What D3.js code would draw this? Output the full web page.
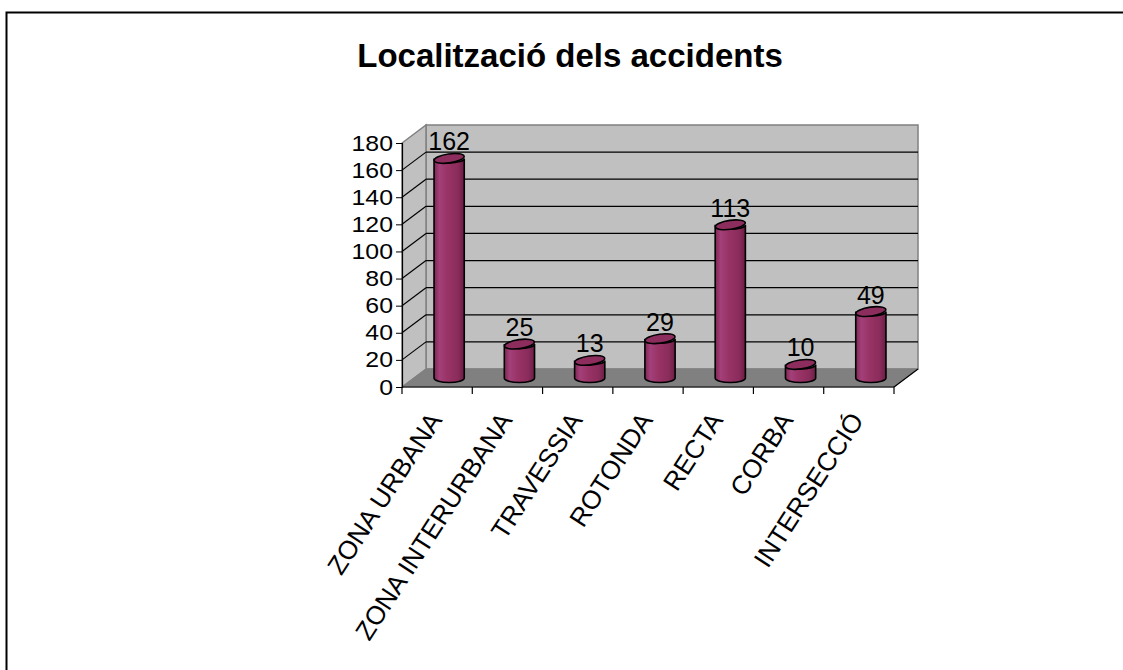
<!DOCTYPE html>
<html>
<head>
<meta charset="utf-8">
<script src="https://cdn.jsdelivr.net/npm/d3@7"></script>
<style>
html,body{margin:0;padding:0;background:#fff;}
text{font-family:Arial,"Liberation Sans",sans-serif;}
</style>
</head>
<body>
<svg id="chart" width="1123" height="670"></svg>
<script>
const title = "Localització dels accidents";
const categories = ["ZONA URBANA","ZONA INTERURBANA","TRAVESSIA","ROTONDA","RECTA","CORBA","INTERSECCIÓ"];
const values = [162,25,13,29,113,10,49];
const yTicks = [0,20,40,60,80,100,120,140,160,180];

const svg = d3.select("#chart");
const W = 1123, H = 670;
svg.append("rect").attr("width",W).attr("height",H).attr("fill","#fff");
// outer frame (only top & left edges visible)
svg.append("rect").attr("x",6.5).attr("y",12.5).attr("width",1300).attr("height",900)
  .attr("fill","none").attr("stroke","#000").attr("stroke-width",2);

svg.append("text").attr("x",570).attr("y",67).attr("text-anchor","middle")
  .attr("font-size",33).attr("font-weight","bold").text(title);

const x0 = 402, x1 = 894;
const y = d3.scaleLinear().domain([0,180]).range([387,143]);
const x = d3.scaleBand().domain(categories).range([x0,x1]).paddingInner(0).paddingOuter(0);
const DX = 24, DY = -18;

const defs = svg.append("defs");
const g1 = defs.append("linearGradient").attr("id","cyl").attr("x1","0").attr("x2","1").attr("y1","0").attr("y2","0");
[["0%","#7d2652"],["18%","#a3407a"],["45%","#993366"],["80%","#8a2c5b"],["100%","#6a1d44"]].forEach(s=>g1.append("stop").attr("offset",s[0]).attr("stop-color",s[1]));

// back wall
svg.append("rect").attr("x",x0+DX).attr("y",y(180)+DY).attr("width",x1-x0).attr("height",y(0)-y(180))
  .attr("fill","#c0c0c0").attr("stroke","#808080").attr("stroke-width",1.5);
// side wall
svg.append("path").attr("d",`M${x0},${y(0)}L${x0},${y(180)}L${x0+DX},${y(180)+DY}L${x0+DX},${y(0)+DY}Z`)
  .attr("fill","#c0c0c0").attr("stroke","#808080").attr("stroke-width",1.5);
// floor
svg.append("path").attr("d",`M${x0},${y(0)}L${x0+DX},${y(0)+DY}L${x1+DX},${y(0)+DY}L${x1},${y(0)}Z`)
  .attr("fill","#808080").attr("stroke","#808080");
svg.append("line").attr("x1",x1).attr("y1",y(0)).attr("x2",x1+DX).attr("y2",y(0)+DY).attr("stroke","#000").attr("stroke-width",1.2);

// gridlines
const gl = yTicks.filter(t=>t>0 && t<180);
svg.selectAll(".gb").data(gl).enter().append("line")
  .attr("x1",x0+DX).attr("x2",x1+DX).attr("y1",d=>y(d)+DY).attr("y2",d=>y(d)+DY)
  .attr("stroke","#000").attr("stroke-width",1.2);
svg.selectAll(".gs").data(gl).enter().append("line")
  .attr("x1",x0).attr("x2",x0+DX).attr("y1",d=>y(d)).attr("y2",d=>y(d)+DY)
  .attr("stroke","#000").attr("stroke-width",1.2);

// y axis
const yAxis = d3.axisLeft(y).tickValues(yTicks).tickSize(6).tickPadding(3);
const ya = svg.append("g").attr("transform",`translate(${x0},0)`).call(yAxis);
ya.select(".domain").attr("stroke","#000").attr("stroke-width",1.2);
ya.selectAll("line").attr("stroke","#000");
ya.selectAll("text").attr("font-size",22).attr("font-family","Arial,'Liberation Sans',sans-serif").attr("fill","#000")
  .attr("transform","scale(1.13,1)").attr("x",-9/1.13);

// x axis
svg.append("line").attr("x1",x0).attr("x2",x1).attr("y1",y(0)).attr("y2",y(0)).attr("stroke","#000").attr("stroke-width",1.2);
const tickPos = categories.map(c=>x(c)).concat([x1]);
svg.selectAll(".xt").data(tickPos).enter().append("line")
  .attr("x1",d=>d).attr("x2",d=>d).attr("y1",y(0)).attr("y2",y(0)+7).attr("stroke","#000").attr("stroke-width",1.2);

svg.selectAll(".xl").data(categories).enter().append("text")
  .attr("transform",c=>`translate(${x(c)+x.bandwidth()/2-10},410) rotate(-57)`)
  .attr("text-anchor","end").attr("dy","0.72em").attr("font-size",26).text(c=>c);

// bars (cylinders)
const bw = x.bandwidth()*0.43, rx = bw/2, ry = 4.5;
const bars = svg.selectAll(".bar").data(categories.map((c,i)=>({c,v:values[i]}))).enter().append("g");
bars.append("path").attr("d",d=>{
  const cx = x(d.c)+x.bandwidth()/2+DX/2;
  const yt = y(d.v)+DY/2, yb = y(0)+DY/2;
  return `M${cx-rx},${yt}L${cx-rx},${yb}A${rx},${ry} 0 0 0 ${cx+rx},${yb}L${cx+rx},${yt}A${rx},${ry} 0 0 1 ${cx-rx},${yt}Z`;
}).attr("fill","url(#cyl)").attr("stroke","#000").attr("stroke-width",1.6);
bars.append("ellipse")
  .attr("cx",d=>x(d.c)+x.bandwidth()/2+DX/2).attr("cy",d=>y(d.v)+DY/2)
  .attr("rx",rx).attr("ry",ry)
  .attr("transform",d=>`rotate(-8,${x(d.c)+x.bandwidth()/2+DX/2},${y(d.v)+DY/2})`)
  .attr("fill","#8c2d5d").attr("stroke","#000").attr("stroke-width",1.6);
bars.append("text")
  .attr("x",d=>x(d.c)+x.bandwidth()/2+DX/2).attr("y",d=>y(d.v)+DY/2-8)
  .attr("text-anchor","middle").attr("font-size",25).text(d=>d.v);
</script>
</body>
</html>
